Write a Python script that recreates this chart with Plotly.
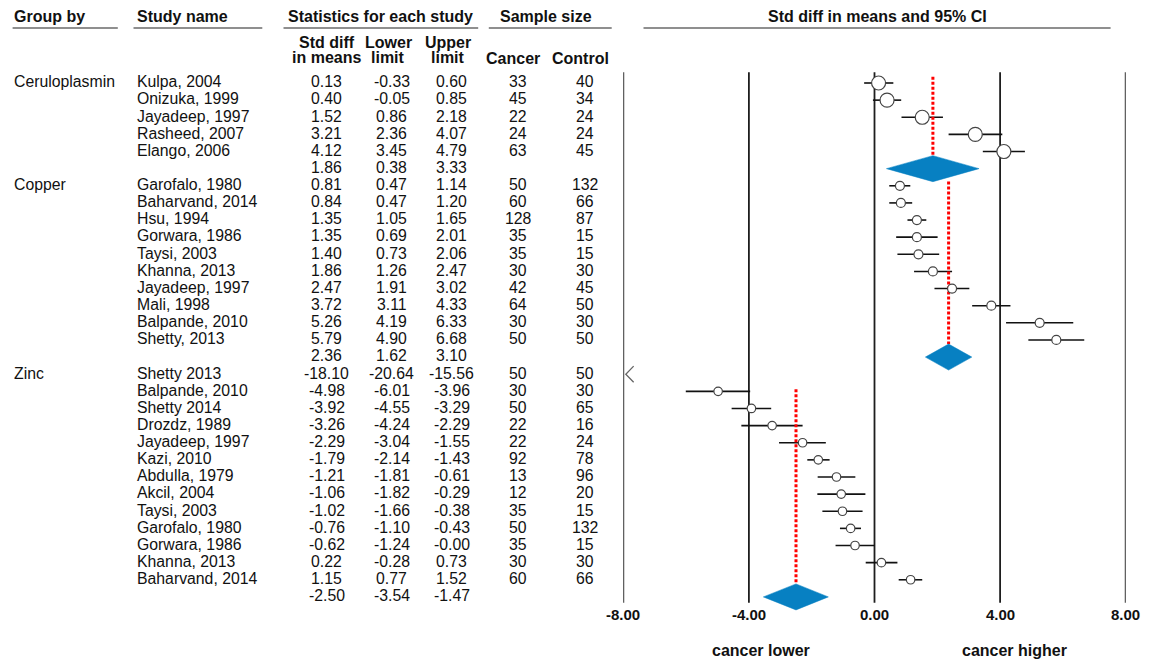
import plotly.graph_objects as go

# ---------------- data ----------------
group_names = ["Ceruloplasmin", "Copper", "Zinc"]

cer_studies = ["Kulpa, 2004", "Onizuka, 1999", "Jayadeep, 1997", "Rasheed, 2007", "Elango, 2006"]
cer_smd = [0.13, 0.40, 1.52, 3.21, 4.12]
cer_lower = [-0.33, -0.05, 0.86, 2.36, 3.45]
cer_upper = [0.60, 0.85, 2.18, 4.07, 4.79]
cer_cancer = [33, 45, 22, 24, 63]
cer_control = [40, 34, 24, 24, 45]
cer_summary = [1.86, 0.38, 3.33]

cu_studies = ["Garofalo, 1980", "Baharvand, 2014", "Hsu, 1994", "Gorwara, 1986", "Taysi, 2003",
              "Khanna, 2013", "Jayadeep, 1997", "Mali, 1998", "Balpande, 2010", "Shetty, 2013"]
cu_smd = [0.81, 0.84, 1.35, 1.35, 1.40, 1.86, 2.47, 3.72, 5.26, 5.79]
cu_lower = [0.47, 0.47, 1.05, 0.69, 0.73, 1.26, 1.91, 3.11, 4.19, 4.90]
cu_upper = [1.14, 1.20, 1.65, 2.01, 2.06, 2.47, 3.02, 4.33, 6.33, 6.68]
cu_cancer = [50, 60, 128, 35, 35, 30, 42, 64, 30, 50]
cu_control = [132, 66, 87, 15, 15, 30, 45, 50, 30, 50]
cu_summary = [2.36, 1.62, 3.10]

zn_studies = ["Shetty 2013", "Balpande, 2010", "Shetty 2014", "Drozdz, 1989", "Jayadeep, 1997",
              "Kazi, 2010", "Abdulla, 1979", "Akcil, 2004", "Taysi, 2003", "Garofalo, 1980",
              "Gorwara, 1986", "Khanna, 2013", "Baharvand, 2014"]
zn_smd = [-18.10, -4.98, -3.92, -3.26, -2.29, -1.79, -1.21, -1.06, -1.02, -0.76, -0.62, 0.22, 1.15]
zn_lower = [-20.64, -6.01, -4.55, -4.24, -3.04, -2.14, -1.81, -1.82, -1.66, -1.10, -1.24, -0.28, 0.77]
zn_upper = [-15.56, -3.96, -3.29, -2.29, -1.55, -1.43, -0.61, -0.29, -0.38, -0.43, -0.00, 0.73, 1.52]
zn_cancer = [50, 30, 50, 22, 22, 92, 13, 12, 35, 50, 35, 30, 60]
zn_control = [50, 30, 65, 16, 24, 78, 96, 20, 15, 132, 15, 30, 66]
zn_summary = [-2.50, -3.54, -1.47]

axis_ticks = [-8, -4, 0, 4, 8]
axis_tick_labels = ["-8.00", "-4.00", "0.00", "4.00", "8.00"]
left_label = "cancer lower"
right_label = "cancer higher"

groups = [
    (group_names[0], cer_studies, cer_smd, cer_lower, cer_upper, cer_cancer, cer_control, cer_summary),
    (group_names[1], cu_studies, cu_smd, cu_lower, cu_upper, cu_cancer, cu_control, cu_summary),
    (group_names[2], zn_studies, zn_smd, zn_lower, zn_upper, zn_cancer, zn_control, zn_summary),
]

# ---------------- styles / layout ----------------
W, H = 1152, 662
ROW0_PX, ROW_H = 83.0, 17.13
XMIN, XMAX = -8, 8
X_LEFT_PX, X_RIGHT_PX = 623.3, 1125.7
marker_sizes = [14, 9, 8.5]          # per group
line_start_offsets = [-0.37, -0.25, 0.88]  # red reference line start (rows rel. to first study)
DIAMOND_HALF = 0.76
FONT = "Liberation Sans, Arial, sans-serif"
FS = 15.8
FS_TICK = 15
FS_HDR = 16
TXT = "#111111"
BLUE = "#0780C2"


def px_x(p):
    return p / W


def px_y(p):
    return 1 - p / H


def row_of_px(p):
    return (p - ROW0_PX) / ROW_H


fig = go.Figure()
annotations = []
shapes = []


def text(x_px, row, s, anchor="left", bold=False, size=FS):
    annotations.append(dict(
        x=px_x(x_px), y=row, xref="paper", yref="y", text=("<b>%s</b>" % s) if bold else s,
        showarrow=False, xanchor=anchor, yanchor="middle",
        font=dict(family=FONT, size=size, color=TXT)))


# column positions (pixels)
COL_GROUP, COL_STUDY = 12, 135
COL_SMD, COL_LO, COL_HI, COL_CA, COL_CO = 326.7, 391.7, 451.7, 518, 585

ci_x, ci_y = [], []
row = 0
for gi, (gname, studies, smd, lo, hi, nca, nco, summ) in enumerate(groups):
    first_row = row
    text(COL_GROUP, row - 0.07, gname)
    mk_x, mk_y = [], []
    for i, st in enumerate(studies):
        text(COL_STUDY, row - 0.07, st)
        text(COL_SMD, row - 0.07, "%.2f" % smd[i], "center")
        text(COL_LO, row - 0.07, "%.2f" % lo[i], "center")
        text(COL_HI, row - 0.07, "%.2f" % hi[i], "center")
        text(COL_CA, row - 0.07, str(nca[i]), "center")
        text(COL_CO, row - 0.07, str(nco[i]), "center")
        if hi[i] < XMIN:
            # off-scale indicator
            fig.add_trace(go.Scatter(
                x=[XMIN + 0.33, XMIN + 0.08, XMIN + 0.33], y=[row - 0.47, row, row + 0.47],
                mode="lines", line=dict(color="#666666", width=1.3), hoverinfo="skip", showlegend=False))
        else:
            ci_x += [max(lo[i], XMIN), min(hi[i], XMAX), None]
            ci_y += [row, row, None]
            mk_x.append(smd[i])
            mk_y.append(row)
        row += 1
    # summary row
    m, sl, sh = summ
    text(COL_SMD, row - 0.07, "%.2f" % m, "center")
    text(COL_LO, row - 0.07, "%.2f" % sl, "center")
    text(COL_HI, row - 0.07, "%.2f" % sh, "center")
    fig.add_trace(go.Scatter(
        x=[m, m], y=[first_row + line_start_offsets[gi], row - DIAMOND_HALF],
        mode="lines", line=dict(color="#FF0000", width=3, dash="3px,2px"),
        hoverinfo="skip", showlegend=False))
    fig.add_trace(go.Scatter(
        x=[sl, m, sh, m, sl], y=[row, row - DIAMOND_HALF, row, row + DIAMOND_HALF, row],
        mode="lines", fill="toself", fillcolor=BLUE, line=dict(color=BLUE, width=0.5),
        hoverinfo="skip", showlegend=False))
    fig.add_trace(go.Scatter(
        x=mk_x, y=mk_y, mode="markers", name=gname,
        marker=dict(symbol="circle", size=marker_sizes[gi], color="white",
                    line=dict(color="#444444", width=1.2)),
        hoverinfo="skip", showlegend=False))
    row += 1

# CI lines underneath markers
fig.add_trace(go.Scatter(x=ci_x, y=ci_y, mode="lines", line=dict(color="#111111", width=1.6),
                         hoverinfo="skip", showlegend=False))
fig.data = (fig.data[-1],) + fig.data[:-1]

# vertical reference lines
top_row, bot_row = row_of_px(72.3), row_of_px(602.7)
for t in axis_ticks:
    shapes.append(dict(type="line", xref="x", yref="y", x0=t, x1=t, y0=top_row, y1=bot_row,
                       line=dict(color="#1e1e1e", width=1.8), layer="below"))

# tick labels
tick_row = row_of_px(614.3)
for t, lab in zip(axis_ticks, axis_tick_labels):
    annotations.append(dict(x=t, y=tick_row, xref="x", yref="y", text="<b>%s</b>" % lab,
                            showarrow=False, xanchor="center", yanchor="middle",
                            font=dict(family=FONT, size=FS_TICK, color=TXT)))

# direction labels
for xp, lab in [(761, left_label), (1014.5, right_label)]:
    annotations.append(dict(x=px_x(xp), y=px_y(650.7), xref="paper", yref="paper",
                            text="<b>%s</b>" % lab, showarrow=False, xanchor="center",
                            yanchor="middle", font=dict(family=FONT, size=FS_HDR, color=TXT)))

# headers
HDR_Y = 17


def header(x_px, y_px, s, anchor):
    annotations.append(dict(x=px_x(x_px), y=px_y(y_px), xref="paper", yref="paper",
                            text="<b>%s</b>" % s, showarrow=False, xanchor=anchor, yanchor="middle",
                            font=dict(family=FONT, size=FS_HDR, color=TXT)))


header(12, HDR_Y, "Group by", "left")
header(135, HDR_Y, "Study name", "left")
header(380, HDR_Y, "Statistics for each study", "center")
header(546, HDR_Y, "Sample size", "center")
header(877, HDR_Y, "Std diff in means and 95% CI", "center")
header(326.7, 42, "Std diff", "center")
header(326.7, 57, "in means", "center")
header(388, 42, "Lower", "center")
header(388, 57, "limit", "center")
header(447.5, 42, "Upper", "center")
header(447.5, 57, "limit", "center")
header(512.5, 58, "Cancer", "center")
header(580, 58, "Control", "center")

UL_Y = 28
for x0, x1 in [(12.6, 117.8), (133.5, 262.3), (283.5, 478.2), (488.8, 611.7), (643.5, 1110.6)]:
    shapes.append(dict(type="line", xref="paper", yref="paper", x0=px_x(x0), x1=px_x(x1),
                       y0=px_y(UL_Y), y1=px_y(UL_Y), line=dict(color="#6a6a6a", width=1.6)))

fig.update_layout(
    width=W, height=H,
    margin=dict(l=0, r=0, t=0, b=0),
    paper_bgcolor="white", plot_bgcolor="rgba(0,0,0,0)",
    showlegend=False,
    xaxis=dict(domain=[px_x(X_LEFT_PX), px_x(X_RIGHT_PX)], range=[XMIN, XMAX], visible=False,
               showgrid=False, zeroline=False, fixedrange=True),
    yaxis=dict(domain=[0, 1], range=[row_of_px(H), row_of_px(0)], visible=False,
               showgrid=False, zeroline=False, fixedrange=True),
    annotations=annotations,
    shapes=shapes,
)

fig.write_html("out.html", config={"displayModeBar": False},
               post_script="document.body.style.margin='0';document.body.style.overflow='hidden';")
